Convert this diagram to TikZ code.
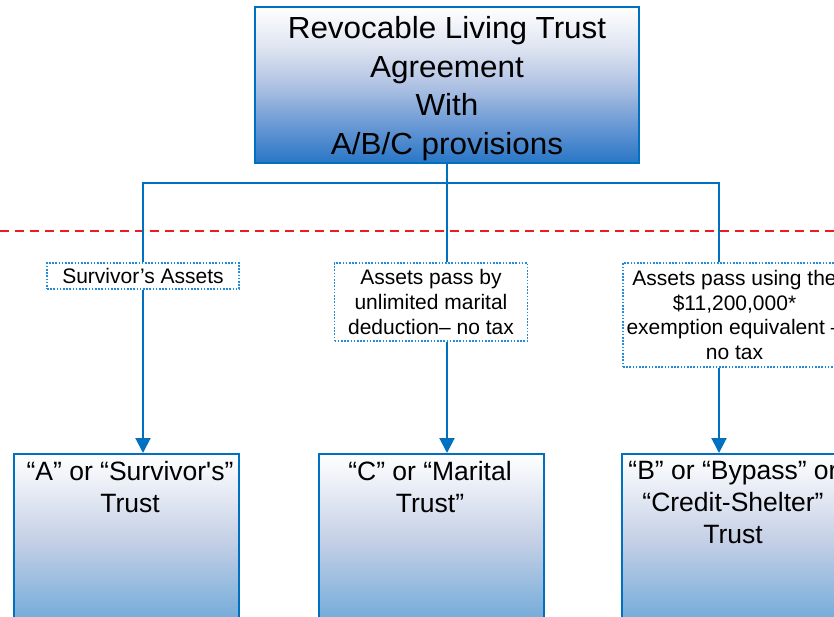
\documentclass[tikz,border=0pt]{standalone}
\usepackage{fontspec}
\setmainfont{Liberation Sans}
\newfontfamily\widefont[FakeStretch=1.03]{Liberation Sans}
\usetikzlibrary{arrows.meta}
\definecolor{lineblue}{RGB}{0,112,192}
\definecolor{dotblue}{RGB}{35,140,215}
\definecolor{reddash}{RGB}{237,28,36}
\definecolor{shA}{RGB}{40,118,198}
\definecolor{shB}{RGB}{105,152,212}
\definecolor{shC}{RGB}{176,194,227}
\definecolor{shD}{RGB}{222,228,241}
\definecolor{tbA}{RGB}{92,156,212}
\definecolor{tbB}{RGB}{120,173,218}
\definecolor{tbC}{RGB}{197,208,230}
\pgfdeclareverticalshading{boxshade}{100bp}{color(0bp)=(shA); color(25bp)=(shA); color(37bp)=(shB); color(50bp)=(shC); color(62bp)=(shD); color(75bp)=(white); color(100bp)=(white)}
\pgfdeclareverticalshading{trustshade}{100bp}{color(0bp)=(tbA); color(25bp)=(tbA); color(34.5bp)=(tbB); color(53.5bp)=(tbC); color(75bp)=(white); color(100bp)=(white)}
\tikzset{
  topbox/.style={draw=lineblue, line width=2pt, shading=boxshade, minimum width=384pt, minimum height=156pt, inner sep=0pt},
  trustbox/.style={draw=lineblue, line width=2pt, shading=trustshade, minimum width=225pt, minimum height=200pt, inner sep=0pt},
  toptext/.style={font=\widefont\fontsize{30.5}{38.6}\selectfont, align=center, inner sep=0pt, anchor=north},
  trusttext/.style={font=\fontsize{26.5}{32}\selectfont, align=center, inner sep=0pt, anchor=north},
  lbl/.style={draw=dotblue, line width=1.5pt, dash pattern=on 1.6pt off 1.6pt, fill=white, font=\fontsize{21}{24.8}\selectfont, align=center, inner sep=0pt},
  conn/.style={draw=lineblue, line width=2pt},
  arr/.style={conn, -{Triangle[width=15pt,length=15pt]}},
}
\begin{document}
\begin{tikzpicture}[x=1pt,y=-1pt]
\useasboundingbox (0,0) rectangle (834,616);
\clip (0,0) rectangle (834,616);
\fill[white] (0,0) rectangle (834,616);
% red dashed line
\coordinate (dl) at (0,231);
\coordinate (dr) at (834,231);
\draw[reddash, line width=2pt, dash pattern=on 9pt off 6pt] (dl) -- (dr);
% top box
\node[topbox] (top) at (447,85) {};
\node[toptext] (toptxt) at (447,16.3) {Revocable Living Trust\\Agreement\\With\\A/B/C provisions};
% junctions
\coordinate (jl) at (143,183);
\coordinate (jr) at (719,183);
% labels
\node[lbl, minimum width=192pt, minimum height=26pt] (lab1) at (143,276) {Survivor’s Assets};
\node[lbl, minimum width=193pt, minimum height=78pt] (lab2) at (431,302) {Assets pass by\\unlimited marital\\deduction– no tax};
\node[lbl, minimum width=223pt, minimum height=104pt] (lab3) at (734.5,315) {Assets pass using the\\\$11,200,000*\\exemption equivalent –\\no tax};
% trust boxes
\node[trustbox] (box1) at (126.5,554) {};
\node[trustbox] (box2) at (431.5,554) {};
\node[trustbox] (box3) at (734.5,554) {};
\node[trusttext] (t1) at (130,461) {“A” or “Survivor\textquotesingle s”\\Trust};
\node[trusttext] (t2) at (430,461) {“C” or “Marital\\Trust”};
\node[trusttext] (t3) at (733,461) {“B” or “Bypass” or\\“Credit-Shelter”\\Trust};
% connectors
\draw[conn] (top.south) -- (top.south |- lab2.north);
\draw[conn] (lab1.north) -- (jl) -- (jr) -- (jr |- lab3.north);
\draw[arr] (lab1.south) -- (lab1.south |- box1.north);
\draw[arr] (top.south |- lab2.south) -- (top.south |- box2.north);
\draw[arr] (jr |- lab3.south) -- (jr |- box3.north);
\end{tikzpicture}
\end{document}
